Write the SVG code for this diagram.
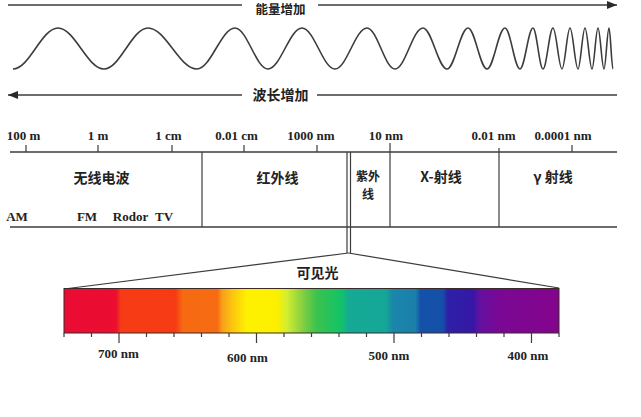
<svg xmlns="http://www.w3.org/2000/svg" width="641" height="417" viewBox="0 0 641 417">
<style>
.ln{stroke:#3c3c3c;stroke-width:1.6;fill:none}
.thin{stroke:#3c3c3c;stroke-width:1.2;fill:none}
.lat{font-family:"Liberation Serif","DejaVu Serif",serif;font-weight:bold;font-size:13px;fill:#222;text-anchor:middle}
.cjk{font-family:"Noto Sans CJK SC","Noto Sans",sans-serif;font-weight:bold;font-size:14px;fill:#222;text-anchor:middle}
.sm{font-size:12px}
</style>
<defs>
<marker id="ah" viewBox="0 0 10 8" refX="10" refY="4" markerWidth="10" markerHeight="8" markerUnits="userSpaceOnUse" orient="auto">
<path d="M0,0 L10,4 L0,8 Z" fill="#2a2a2a"/>
</marker>
<linearGradient id="spec" x1="64" y1="0" x2="559" y2="0" gradientUnits="userSpaceOnUse">
<stop offset="0" stop-color="#ea0c34"/>
<stop offset="0.105" stop-color="#ec0e30"/>
<stop offset="0.115" stop-color="#f63c16"/>
<stop offset="0.225" stop-color="#f63a14"/>
<stop offset="0.24" stop-color="#f66a12"/>
<stop offset="0.31" stop-color="#f66c12"/>
<stop offset="0.32" stop-color="#f8a01a"/>
<stop offset="0.34" stop-color="#fcc40e"/>
<stop offset="0.37" stop-color="#fff200"/>
<stop offset="0.43" stop-color="#fcf000"/>
<stop offset="0.45" stop-color="#d2ee30"/>
<stop offset="0.48" stop-color="#8ad040"/>
<stop offset="0.51" stop-color="#3cc24e"/>
<stop offset="0.56" stop-color="#12c368"/>
<stop offset="0.575" stop-color="#14aa94"/>
<stop offset="0.65" stop-color="#15a698"/>
<stop offset="0.665" stop-color="#1a86aa"/>
<stop offset="0.71" stop-color="#1a80aa"/>
<stop offset="0.72" stop-color="#1452aa"/>
<stop offset="0.765" stop-color="#1450a8"/>
<stop offset="0.775" stop-color="#2e20a8"/>
<stop offset="0.825" stop-color="#3418a6"/>
<stop offset="0.84" stop-color="#6410a0"/>
<stop offset="0.88" stop-color="#7a0894"/>
<stop offset="1" stop-color="#84048c"/>
</linearGradient>
</defs>
<rect width="641" height="417" fill="#ffffff"/>

<g id="connectors">
<line class="ln" x1="8" y1="5" x2="242" y2="5"/>
<line class="ln" x1="318" y1="5" x2="617" y2="5" marker-end="url(#ah)"/>
<line class="ln" x1="242" y1="95" x2="8" y2="95" marker-end="url(#ah)"/>
<line class="ln" x1="317" y1="95" x2="617" y2="95"/>
<line class="thin" x1="347" y1="152" x2="347" y2="253"/>
<line class="thin" x1="350.5" y1="152" x2="350.5" y2="253"/>
<line class="thin" x1="348.5" y1="253" x2="64" y2="289"/>
<line class="thin" x1="348.5" y1="253" x2="559" y2="288"/>
</g>

<g id="energy-label"><text class="cjk" style="font-size:12.5px" x="280.5" y="14">能量增加</text></g>
<g id="wavelength-label"><text class="cjk" x="280.5" y="100">波长增加</text></g>

<g id="wave">
<path class="ln" d="M13,69 C29.4,69 41.6,28 58,28 C74.7,28 87.3,69 104,69 C120,69 132,28 148,28 C165.8,28 179.2,69 197,69 C210.8,69 221.2,28 235,28 C247,28 256,69 268,69 C280.4,69 289.6,28 302,28 C314,28 323,69 335,69 C346.6,69 355.4,28 367,28 C377.2,28 384.8,69 395,69 C405.2,69 412.8,28 423,28 C431.7,28 438.3,69 447,69 C454.6,69 460.4,28 468,28 C474.9,28 480.1,69 487,69 C493.6,69 498.4,28 505,28 C510.5,28 514.5,69 520,69 C524.7,69 528.3,28 533,28 C536.6,28 539.4,69 543,69 C546.6,69 549.4,28 553,28 C556.3,28 558.7,69 562,69 C564.9,69 567.1,28 570,28 C572.9,28 575.1,69 578,69 C580.5,69 582.5,28 585,28 C587.5,28 589.5,69 592,69 C594.2,69 595.8,28 598,28 C600.2,28 601.8,69 604,69 C605.8,69 607.2,28 609,28 C610.5,28 611.5,69 613,69"/>
</g>

<g id="scale">
<line class="ln" x1="10" y1="152" x2="617" y2="152"/>
<line class="ln" x1="10" y1="227" x2="617" y2="227"/>
<path class="thin" d="M26,145V152 M98,145V152 M172,145V152 M244,145V152 M317,145V152 M572,145V152"/>
<text class="lat" x="23.5" y="140">100 m</text>
<text class="lat" x="98" y="140">1 m</text>
<text class="lat" x="168.5" y="140">1 cm</text>
<text class="lat" x="236.5" y="140">0.01 cm</text>
<text class="lat" x="311" y="140">1000 nm</text>
<text class="lat" x="386" y="140">10 nm</text>
<text class="lat" x="493.5" y="140">0.01 nm</text>
<text class="lat" x="563" y="140">0.0001 nm</text>
</g>

<g id="band-radio">
<line class="thin" x1="202" y1="152" x2="202" y2="227"/>
<text class="cjk" x="101.5" y="183">无线电波</text>
<text class="lat" x="17" y="220.5">AM</text>
<text class="lat" x="87" y="220.5">FM</text>
<text class="lat" x="130.5" y="220.5">Rodor</text>
<text class="lat" x="164" y="220.5">TV</text>
</g>
<g id="band-infrared"><text class="cjk" x="277.5" y="183">红外线</text></g>
<g id="band-uv">
<line class="thin" x1="390" y1="143" x2="390" y2="227"/>
<text class="cjk sm" x="368" y="181">紫外</text>
<text class="cjk sm" x="368" y="199">线</text>
</g>
<g id="band-xray">
<line class="thin" x1="499" y1="148" x2="499" y2="227"/>
<text class="cjk" x="441" y="182">X-射线</text>
</g>
<g id="band-gamma"><text class="cjk" x="553" y="182">γ 射线</text></g>

<g id="visible-light">
<text class="cjk" x="317.5" y="278">可见光</text>
<rect x="64" y="288.5" width="495" height="44.5" fill="url(#spec)" stroke="#3a2a2a" stroke-width="1"/>
<path class="thin" d="M64,333V337 M91.5,333V337 M119,333V343 M146.5,333V337 M174,333V337 M201.5,333V337 M229,333V337 M256.5,333V343 M284,333V337 M311.5,333V337 M339,333V337 M366.5,333V337 M394,333V343 M421.5,333V337 M449,333V337 M476.5,333V337 M504,333V337 M531.5,333V343 M559,333V337"/>
<text class="lat" x="118.5" y="358">700 nm</text>
<text class="lat" x="247.5" y="362">600 nm</text>
<text class="lat" x="389" y="360">500 nm</text>
<text class="lat" x="528" y="360">400 nm</text>
</g>
</svg>
